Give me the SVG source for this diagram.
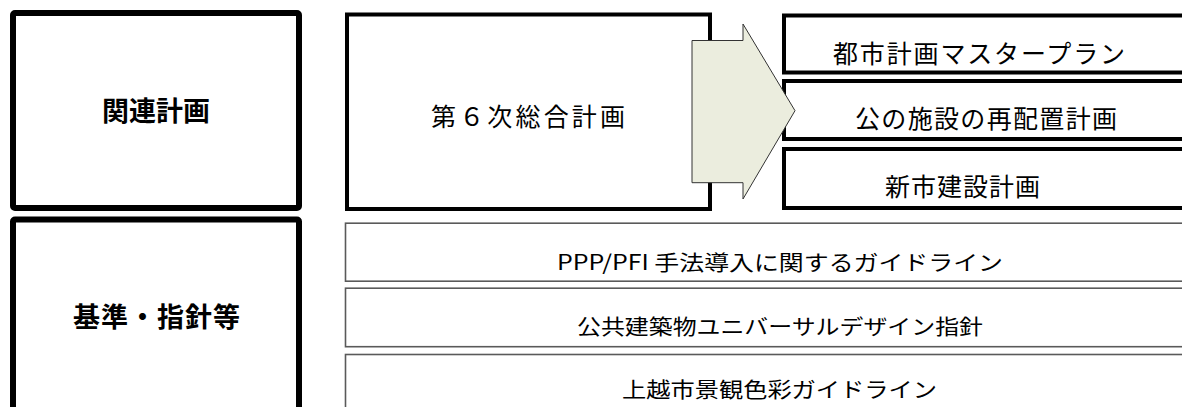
<svg xmlns="http://www.w3.org/2000/svg" width="1182" height="407" viewBox="0 0 1182 407">
<style>
text{font-family:"Noto Sans CJK JP","Noto Sans",sans-serif;fill:#000}
.cat{fill:#fff;stroke:#000;stroke-width:6}
.main{fill:#fff;stroke:#000;stroke-width:4}
.std{fill:#fff;stroke:#5a5a5a;stroke-width:1.6}
.b{font-weight:bold;font-size:27px}
.m{font-size:25px}
.s{font-size:21px}
</style>
<rect width="1182" height="407" fill="#fff"/>
<g id="node-kanren">
<rect class="cat" x="13" y="13" width="286" height="195" rx="2"/>
<text class="b" x="156" y="121" text-anchor="middle">関連計画</text>
</g>
<g id="node-kijun">
<rect class="cat" x="13" y="219.5" width="286" height="200" rx="2"/>
<text class="b" x="73" y="326.5" textLength="167" lengthAdjust="spacing">基準・指針等</text>
</g>
<g id="node-sogo">
<rect class="main" x="347" y="14.5" width="363" height="194.5"/>
<text class="m" x="431" y="125.5" textLength="194" lengthAdjust="spacing">第６次総合計画</text>
</g>
<g id="node-toshi">
<rect class="main" x="784" y="15.5" width="420" height="57"/>
<text class="m" x="833" y="62.5" textLength="292" lengthAdjust="spacing">都市計画マスタープラン</text>
</g>
<g id="node-saihaichi">
<rect class="main" x="784" y="81" width="420" height="58"/>
<text class="m" x="855" y="127.5" textLength="262" lengthAdjust="spacing">公の施設の再配置計画</text>
</g>
<g id="node-shinshi">
<rect class="main" x="784" y="149" width="420" height="59"/>
<text class="m" x="885" y="195.5" textLength="155" lengthAdjust="spacing">新市建設計画</text>
</g>
<g id="node-ppp">
<rect class="std" x="345.5" y="223.2" width="900" height="58"/>
<text class="s" x="557" y="270" textLength="446" lengthAdjust="spacingAndGlyphs">PPP/PFI 手法導入に関するガイドライン</text>
</g>
<g id="node-ud">
<rect class="std" x="345.5" y="288.2" width="900" height="58.5"/>
<text class="s" x="577" y="334" textLength="406" lengthAdjust="spacingAndGlyphs">公共建築物ユニバーサルデザイン指針</text>
</g>
<g id="node-keikan">
<rect class="std" x="345.5" y="354.5" width="900" height="80"/>
<text class="s" x="622" y="397" textLength="315" lengthAdjust="spacingAndGlyphs">上越市景観色彩ガイドライン</text>
</g>
<g id="connectors">
<polygon points="692,40.5 743,40.5 743,24 795,110.7 743,199 743,182.7 692,182.7" fill="#ebedde" stroke="#333" stroke-width="1"/>
</g>
</svg>
